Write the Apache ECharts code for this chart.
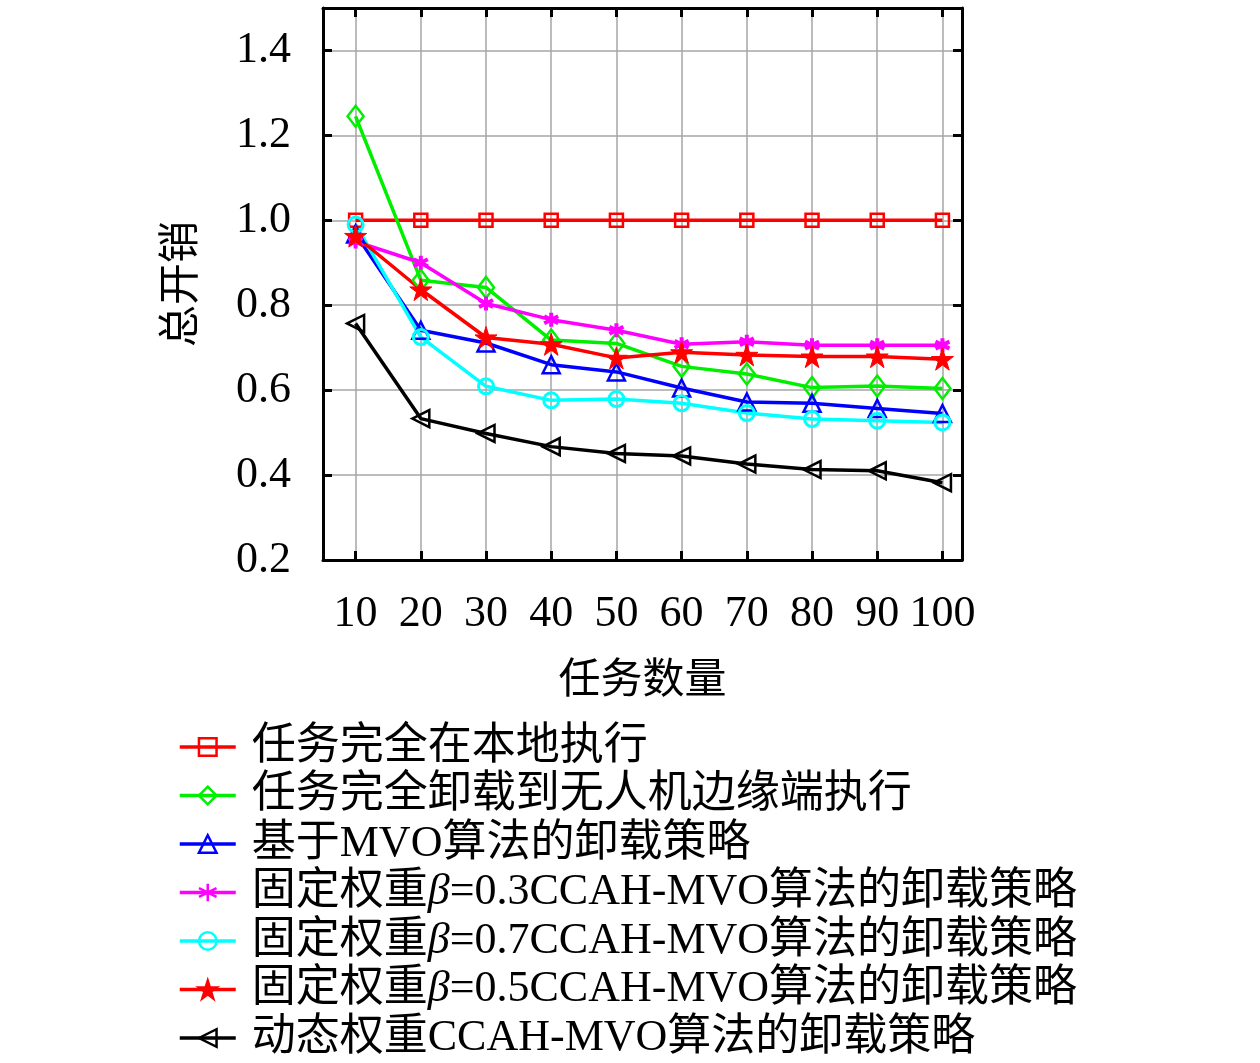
<!DOCTYPE html>
<html lang="zh">
<head>
<meta charset="UTF-8">
<title>总开销</title>
<style>
  html, body { margin: 0; padding: 0; background: #fff; }
  #main { width: 1260px; height: 1063px; }
</style>
</head>
<body>
<div id="main"></div>
<script src="https://cdn.jsdelivr.net/npm/echarts@6/dist/echarts.min.js"></script>
<script>
// 任务数量
var taskCounts = [10, 20, 30, 40, 50, 60, 70, 80, 90, 100];
var yTicks = [0.2, 0.4, 0.6, 0.8, 1.0, 1.2, 1.4];

var seriesNames = [
    '任务完全在本地执行',
    '任务完全卸载到无人机边缘端执行',
    '基于MVO算法的卸载策略',
    '固定权重β=0.3CCAH-MVO算法的卸载策略',
    '固定权重β=0.7CCAH-MVO算法的卸载策略',
    '固定权重β=0.5CCAH-MVO算法的卸载策略',
    '动态权重CCAH-MVO算法的卸载策略'
];

var localExec  = [1.0, 1.0, 1.0, 1.0, 1.0, 1.0, 1.0, 1.0, 1.0, 1.0];
var fullOffload = [1.245, 0.859, 0.842, 0.718, 0.710, 0.656, 0.638, 0.606, 0.610, 0.604];
var mvo        = [0.968, 0.741, 0.711, 0.660, 0.643, 0.605, 0.572, 0.569, 0.557, 0.545];
var beta03     = [0.950, 0.900, 0.804, 0.766, 0.741, 0.708, 0.714, 0.706, 0.706, 0.706];
var beta07     = [0.990, 0.725, 0.609, 0.576, 0.579, 0.569, 0.546, 0.532, 0.528, 0.524];
var beta05     = [0.963, 0.837, 0.724, 0.708, 0.676, 0.689, 0.683, 0.679, 0.679, 0.673];
var dynamic    = [0.757, 0.533, 0.498, 0.467, 0.451, 0.445, 0.426, 0.413, 0.410, 0.382];

var serif = '"Liberation Serif", "Noto Sans CJK SC", serif';

var starPath = 'path://M0,-1L0.2245,-0.309L0.951,-0.309L0.363,0.118L0.588,0.809L0,0.382L-0.588,0.809L-0.363,0.118L-0.951,-0.309L-0.2245,-0.309Z';
var asteriskPath = 'path://M0,-1L0,1M-0.87,-0.5L0.87,0.5M-0.87,0.5L0.87,-0.5';
var leftTriPath = 'path://M-1,0L0.9,-0.9L0.9,0.9Z';

function pairs(vals) {
    return taskCounts.map(function (x, i) { return [x, vals[i]]; });
}

function makeSeries(name, vals, color, symbol, size, filled, bw) {
    return {
        name: name,
        type: 'line',
        data: pairs(vals),
        symbol: symbol,
        symbolSize: size,
        showAllSymbol: true,
        animation: false,
        lineStyle: { color: color, width: 3.5 },
        itemStyle: {
            color: filled ? color : 'rgba(255,255,255,0)',
            borderColor: color,
            borderWidth: bw || 2.5
        },
        emphasis: { disabled: true }
    };
}

var chart = echarts.init(document.getElementById('main'));

var tickStyle = { show: true, inside: true, length: 9, lineStyle: { color: '#000', width: 3 } };
var frameLine = { show: true, onZero: false, lineStyle: { color: '#000', width: 3 } };

chart.setOption({
    backgroundColor: '#fff',
    grid: { left: 323, top: 8, right: 298, bottom: 503 },
    legend: {
        orient: 'vertical',
        left: 178,
        top: 725,
        padding: 0,
        itemWidth: 56,
        itemHeight: 22,
        itemGap: 4.5,
        data: seriesNames,
        formatter: function (name) { return name.replace('β', '{i|β}'); },
        itemStyle: { borderWidth: 2.5 },
        lineStyle: { width: 3.5 },
        textStyle: {
            fontFamily: serif, fontSize: 44, color: '#000', lineHeight: 44,
            padding: [0, 0, 0, 11],
            rich: {
                i: { fontFamily: serif, fontSize: 44, fontStyle: 'italic', color: '#000', lineHeight: 44 }
            }
        }
    },
    xAxis: [{
        type: 'value',
        min: 5,
        max: 103,
        position: 'bottom',
        name: '任务数量',
        nameLocation: 'middle',
        nameGap: 101,
        nameTextStyle: { fontFamily: serif, fontSize: 42, color: '#000' },
        axisLine: frameLine,
        axisTick: Object.assign({ customValues: taskCounts }, tickStyle),
        axisLabel: {
            customValues: taskCounts,
            margin: 32,
            fontFamily: serif,
            fontSize: 44,
            color: '#000'
        },
        splitLine: { show: true, lineStyle: { color: '#a6a6a6', width: 1.5 } }
    }, {
        type: 'value',
        min: 5,
        max: 103,
        position: 'top',
        axisLine: frameLine,
        axisTick: Object.assign({ customValues: taskCounts }, tickStyle),
        axisLabel: { show: false },
        splitLine: { show: false }
    }],
    yAxis: [{
        type: 'value',
        min: 0.2,
        max: 1.5,
        position: 'left',
        name: '总开销',
        nameLocation: 'middle',
        nameRotate: 90,
        nameGap: 119,
        nameTextStyle: { fontFamily: serif, fontSize: 42, color: '#000' },
        axisLine: frameLine,
        axisTick: Object.assign({ customValues: yTicks }, tickStyle),
        axisLabel: {
            customValues: yTicks,
            margin: 32,
            fontFamily: serif,
            fontSize: 44,
            color: '#000',
            formatter: function (v) { return v.toFixed(1); }
        },
        splitLine: { show: true, lineStyle: { color: '#a6a6a6', width: 1.5 } }
    }, {
        type: 'value',
        min: 0.2,
        max: 1.5,
        position: 'right',
        axisLine: frameLine,
        axisTick: Object.assign({ customValues: yTicks }, tickStyle),
        axisLabel: { show: false },
        splitLine: { show: false }
    }],
    series: [
        makeSeries(seriesNames[0], localExec, '#ff0000', 'rect', 13, false, 2.5),
        makeSeries(seriesNames[1], fullOffload, '#00ee00', 'diamond', [16, 21], false, 2.5),
        makeSeries(seriesNames[2], mvo, '#0000ff', 'triangle', 17, false, 2.5),
        makeSeries(seriesNames[3], beta03, '#ff00ff', asteriskPath, 14, false, 4),
        makeSeries(seriesNames[4], beta07, '#00ffff', 'circle', 15, false, 3),
        makeSeries(seriesNames[5], beta05, '#ff0000', starPath, 22, true, 1),
        makeSeries(seriesNames[6], dynamic, '#000000', leftTriPath, 17, false, 2.5)
    ]
});
</script>
</body>
</html>
